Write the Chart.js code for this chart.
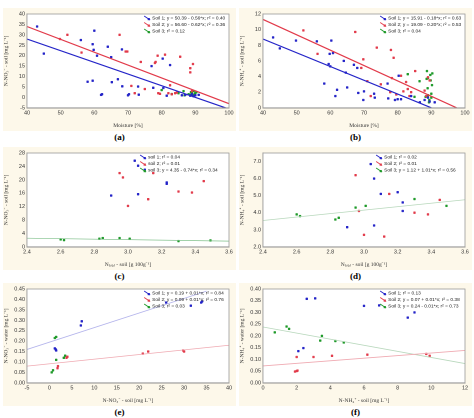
<!DOCTYPE html>
<html><head><meta charset="utf-8">
<script src="https://cdn.jsdelivr.net/npm/chart.js@4/dist/chart.umd.min.js"></script>
<style>
body{margin:0;background:#fff;font-family:"Liberation Serif","DejaVu Serif",serif;}
.box{position:absolute;width:233px;height:123px;background:#fdf8ea;}
.lab{position:absolute;width:233px;text-align:center;font-size:9px;font-weight:bold;}
</style></head><body>
<div class="box" style="left:3px;top:8px"><canvas id="ca" width="233" height="123"></canvas></div>
<div class="box" style="left:239px;top:8px"><canvas id="cb" width="233" height="123"></canvas></div>
<div class="box" style="left:3px;top:147px"><canvas id="cc" width="233" height="123"></canvas></div>
<div class="box" style="left:239px;top:147px"><canvas id="cd" width="233" height="123"></canvas></div>
<div class="box" style="left:3px;top:283px"><canvas id="ce" width="233" height="123"></canvas></div>
<div class="box" style="left:239px;top:283px"><canvas id="cf" width="233" height="123"></canvas></div>
<div class="lab" style="left:3px;top:132px">(a)</div>
<div class="lab" style="left:239px;top:132px">(b)</div>
<div class="lab" style="left:3px;top:271px">(c)</div>
<div class="lab" style="left:239px;top:271px">(d)</div>
<div class="lab" style="left:3px;top:407px">(e)</div>
<div class="lab" style="left:239px;top:407px">(f)</div>
<script>
// ---- data ----
const a_soil1=[[43,34],[45,21],[56,27.5],[58,7.5],[59.5,8],[59.5,25.5],[59.8,22.8],[60,32],[60.8,20],[62,1.2],[62.3,1.5],[64,24.3],[65,19.3],[65.2,7.3],[67,8.7],[68.2,23],[68.3,5.3],[70,1],[70.3,1.5],[73,5.2],[73.2,1.3],[77,15],[77.5,4.6],[80.3,18.6],[80.5,4.5],[81.5,0.8],[82.5,15.5],[86,1],[87,1.2],[88.5,0.8],[89,1.5],[90,1],[91,1.2],[89.5,0.5]];
const a_soil2=[[52,30],[49.8,28],[56.2,21.5],[67.5,30],[69.3,22],[69.8,22],[71,5.5],[72,2],[73.8,17],[75,4],[78,16.5],[78.2,17],[78.8,20],[79,2],[79.5,1.7],[81,20.5],[82,2],[82.5,5.8],[83,1.5],[84,2],[85.5,19.5],[88.5,14],[88.5,12],[89.3,16],[89,3],[84.5,2.3]];
const a_soil3=[[80,3.5],[83,1.6],[85,2],[86.5,3],[86.8,1],[88,1.5],[88.7,2.5],[89,2],[89.5,3],[90,2],[89.2,1],[90.3,2.5],[88.5,1.2],[89.8,1.5]];
const a_fit1=[[40,28],[100,-5.6]], a_fit2=[[40,34],[100,-3]];
const b_soil1=[[43,9],[45,7.6],[49.8,8.6],[56,8.5],[58.2,3.1],[59.5,5.6],[60,5.3],[59.8,6.9],[60.3,8.6],[60.8,7],[61.5,1.5],[62,2.3],[64,6],[64.6,4.5],[65,2.6],[67,5.5],[68,5.1],[68.3,1.9],[69.8,1],[70,2.1],[73,1.8],[73.2,1.3],[77,3.1],[77.2,1.2],[79.2,1],[80,1.1],[80.3,4.1],[81,1.1],[84,1.5],[86.6,0.7],[88,1],[89,1.3],[91,0.7],[89.5,0.8]];
const b_soil2=[[52,9.9],[56.2,6.9],[67.4,9.7],[69.2,5.1],[69.8,6.2],[71,3.4],[72,1.5],[73.8,7.7],[75,3],[77.8,2],[78,7.4],[78.3,3.8],[78.8,6.4],[79.6,1.7],[81,4.1],[81.7,2.1],[82.5,3.3],[83,2.4],[83.5,1.5],[84,2],[85.2,4.7],[88,2.2],[88.5,1.5],[89,3.9],[89.5,3.5]];
const b_soil3=[[83,4.3],[85,1.4],[86.5,3.4],[88.3,1.4],[88.6,3.7],[88.7,4.7],[89,1.6],[89,3.8],[89.3,0.7],[89.7,4.2],[89.8,3.5],[90,1.8],[90.2,2.9],[90.3,4.4],[88.9,2.5],[89.4,1],[90,1.3]];
const b_fit1=[[40,8.8],[90,0]], b_fit2=[[40,11.3],[97.5,0]];
const c_soil1=[[2.9,15.3],[3.04,25.7],[3.06,15.7],[3.06,24.2],[3.1,23],[3.23,18.8],[3.23,19.2]];
const c_soil2=[[2.95,22],[2.97,20.7],[3.0,12.2],[3.12,14.2],[3.15,22],[3.3,16.5],[3.38,16.2],[3.45,19.6]];
const c_soil3=[[2.6,2.2],[2.62,2],[2.83,2.4],[2.85,2.6],[2.95,2.6],[3.01,2.4],[3.3,1.7],[3.49,1.9]];
const c_fit3=[[2.4,2.57],[3.6,1.69]];
const d_soil1=[[2.9,3.15],[3.04,6.85],[3.06,6.0],[3.06,3.25],[3.1,5.1],[3.2,5.2],[3.23,4.6],[3.23,4.1]];
const d_soil2=[[2.95,6.2],[2.97,4.1],[3.0,2.7],[3.12,2.6],[3.15,5.1],[3.3,4.0],[3.38,3.9],[3.45,4.75]];
const d_soil3=[[2.6,3.9],[2.62,3.8],[2.83,3.6],[2.85,3.7],[2.95,4.3],[3.01,4.4],[3.3,4.8],[3.49,4.4]];
const d_fit3=[[2.4,3.54],[3.6,4.76]];
const e_soil1=[[1.2,0.165],[1.4,0.16],[1.5,0.155],[7,0.275],[7.2,0.295],[26,0.385],[31.5,0.37],[34,0.39],[33.8,0.385]];
const e_soil2=[[1.8,0.07],[1.9,0.08],[3.8,0.12],[4,0.125],[20.8,0.14],[22,0.15],[29.8,0.155],[30,0.15]];
const e_soil3=[[0.5,0.05],[0.8,0.06],[1.2,0.215],[1.5,0.22],[1.5,0.11],[3.2,0.12],[3.5,0.13]];
const e_fit1=[[-5,0.16],[35,0.44]], e_fit2=[[-5,0.08],[40,0.18]];
const f_soil1=[[2.1,0.135],[2.4,0.148],[2.6,0.358],[3.1,0.36],[6,0.328],[6.9,0.33],[8.6,0.278],[9,0.3]];
const f_soil2=[[1.9,0.048],[2.0,0.05],[2.05,0.052],[2,0.11],[3,0.11],[4.1,0.115],[6.2,0.12],[9.7,0.123],[9.9,0.115]];
const f_soil3=[[0.7,0.215],[1.4,0.24],[1.55,0.23],[3.4,0.18],[3.5,0.2],[4.3,0.178],[4.8,0.172]];
const f_fit2=[[0,0.072],[12,0.138]], f_fit3=[[0,0.238],[12,0.082]];

const BLUE='#2424c8',RED='#e23a4a',GREEN='#1f9a2a';
const pts=(arr)=>arr.map(p=>({x:p[0],y:p[1]}));
function sc(d,c){return {type:'scatter',data:pts(d),backgroundColor:c,borderColor:c,pointStyle:'rect',pointRadius:1.3,pointBorderWidth:0.5};}
function ln(d,c,w){return {type:'line',data:pts(d),borderColor:c,borderWidth:w||1.2,pointRadius:0,fill:false};}
const deco={id:'deco',
 beforeDatasetsDraw(ch){const a=ch.chartArea,x=ch.ctx;x.save();x.fillStyle='#fff';x.fillRect(a.left,a.top,a.right-a.left,a.bottom-a.top);x.restore();},
 afterDatasetsDraw(ch){const a=ch.chartArea,x=ch.ctx,o=ch.options.plugins.deco;x.save();
  x.strokeStyle='#9a9a9a';x.lineWidth=0.8;x.strokeRect(a.left,a.top,a.right-a.left,a.bottom-a.top);
  x.font='4.8px "Liberation Sans",sans-serif';x.textBaseline='middle';
  let lx=a.left+(a.right-a.left)*o.fx,ly=a.top+4;
  o.items.forEach(it=>{x.strokeStyle=it[1];x.lineWidth=0.9;x.beginPath();x.moveTo(lx,ly-2);x.lineTo(lx+6,ly+2);x.stroke();
   x.fillStyle=it[1];x.fillRect(lx+3.5,ly,2.2,2.2);x.fillStyle='#222';x.fillText(it[0],lx+8,ly);ly+=6.5;});
  x.restore();}};
function panel(id,ds,xs,ys,xt,yt,items,fx,xdec,ydec){
 new Chart(document.getElementById(id),{data:{datasets:ds},plugins:[deco],
 options:{responsive:false,animation:false,devicePixelRatio:2,layout:{padding:{top:6,right:7,left:0,bottom:0}},
  plugins:{legend:{display:false},tooltip:{enabled:false},deco:{items,fx}},
  scales:{
   x:{type:'linear',min:xs[0],max:xs[1],grid:{display:false,drawTicks:false,tickLength:0},border:{color:'#888'},
     ticks:{stepSize:xs[2],font:{size:5.5,family:'Liberation Sans'},color:'#333',padding:2,maxRotation:0,callback:v=>v.toFixed(xdec)},
     title:{display:true,text:xt,font:{size:5.5,family:'Liberation Serif'},color:'#333',padding:{top:4,bottom:2}}},
   y:{type:'linear',min:ys[0],max:ys[1],grid:{display:false,drawTicks:false,tickLength:0},border:{color:'#888'},
     ticks:{stepSize:ys[2],font:{size:5.5,family:'Liberation Sans'},color:'#333',padding:2,callback:v=>v.toFixed(ydec)},
     title:{display:true,text:yt,font:{size:5.5,family:'Liberation Serif'},color:'#333',padding:{top:0,bottom:2}},
     afterFit:s=>{s.width=24;}}}}});
}
panel('ca',[ln(a_fit1,BLUE),ln(a_fit2,RED),sc(a_soil1,BLUE),sc(a_soil2,RED),sc(a_soil3,GREEN)],[40,100,10],[-5,40,5],
 'Moisture [%]','N-NO₃⁻ - soil [mg L⁻¹]',[['Soil 1; y = 50.39 - 0.56*x; r² = 0.40',BLUE],['Soil 2; y = 56.60 - 0.62*x; r² = 0.36',RED],['Soil 3; r² = 0.12',GREEN]],0.58,0,0);
panel('cb',[ln(b_fit1,BLUE),ln(b_fit2,RED),sc(b_soil1,BLUE),sc(b_soil2,RED),sc(b_soil3,GREEN)],[40,100,10],[0,12,2],
 'Moisture [%]','N-NH₄⁺ - soil [mg L⁻¹]',[['Soil 1; y = 15.91 - 0.18*x; r² = 0.63',BLUE],['Soil 2; y = 19.09 - 0.20*x; r² = 0.53',RED],['Soil 3; r² = 0.04',GREEN]],0.58,0,0);
panel('cc',[ln(c_fit3,'#7fc08a',0.7),sc(c_soil1,BLUE),sc(c_soil2,RED),sc(c_soil3,GREEN)],[2.4,3.6,0.2],[0,28,2],
 'Nₜₒₜₐₗ - soil [g 100g⁻¹]','N-NO₃⁻ - soil [mg L⁻¹]',[['soil 1; r² = 0.04',BLUE],['soil 2; r² = 0.01',RED],['soil 3; y = 4.35 - 0.74*x; r² = 0.34',GREEN]],0.56,1,0);
panel('cd',[ln(d_fit3,'#b8d8bc',0.8),sc(d_soil1,BLUE),sc(d_soil2,RED),sc(d_soil3,GREEN)],[2.4,3.6,0.2],[2,7.5,0.5],
 'Nₜₒₜₐₗ - soil [g 100g⁻¹]','N-NH₄⁺ - soil [mg L⁻¹]',[['Soil 1; r² = 0.02',BLUE],['Soil 2; r² = 0.01',RED],['Soil 3; y = 1.12 + 1.01*x; r² = 0.56',GREEN]],0.56,1,1);
panel('ce',[ln(e_fit1,'#b4b4ec',0.8),ln(e_fit2,'#f0aab2',0.8),sc(e_soil1,BLUE),sc(e_soil2,RED),sc(e_soil3,GREEN)],[-5,40,5],[0,0.45,0.05],
 'N-NO₃⁻ - soil [mg L⁻¹]','N-NO₃⁻ - water [mg L⁻¹]',[['Soil 1; y = 0.19 + 0.01*x; r² = 0.84',BLUE],['Soil 2; y = 0.09 + 0.01*x; r² = 0.76',RED],['Soil 3; r² = 0.03',GREEN]],0.58,0,2);
panel('cf',[ln(f_fit2,'#f0aab2',0.8),ln(f_fit3,'#b8d8bc',0.8),sc(f_soil1,BLUE),sc(f_soil2,RED),sc(f_soil3,GREEN)],[0,12,2],[0,0.40,0.05],
 'N-NH₄⁺ - soil [mg L⁻¹]','N-NH₄⁺ - water [mg L⁻¹]',[['Soil 1; r² = 0.13',BLUE],['Soil 2; y = 0.07 + 0.01*x; r² = 0.38',RED],['Soil 3; y = 0.24 - 0.01*x; r² = 0.73',GREEN]],0.58,0,2);
</script></body></html>
